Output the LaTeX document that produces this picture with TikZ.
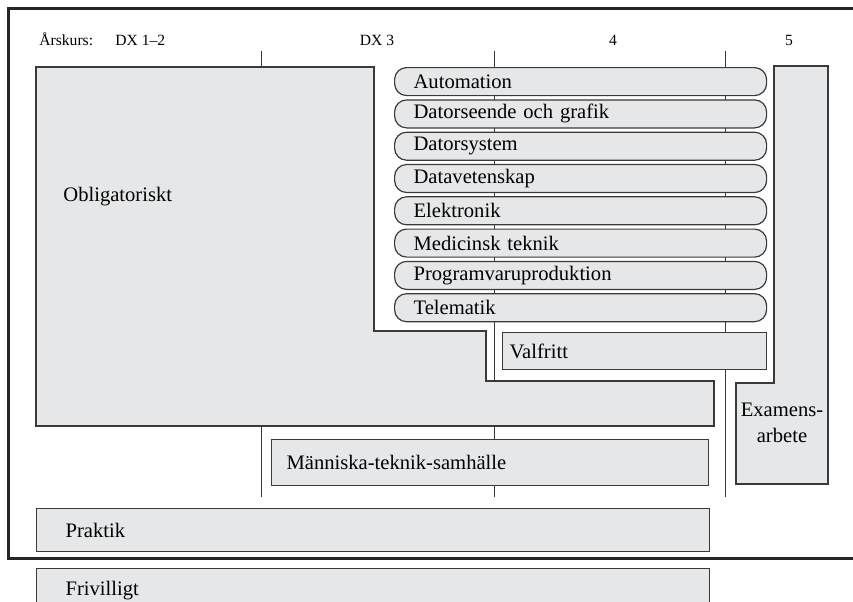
\documentclass[tikz,border=0pt]{standalone}
\usepackage{fontspec}
\setmainfont{Liberation Serif}
\usetikzlibrary{positioning}
\definecolor{boxfill}{HTML}{E6E7E8}
\definecolor{boxline}{HTML}{3A3A3A}

\begin{document}
\begin{tikzpicture}[
  x=0.5pt, y=-0.5pt,
  node distance=1.55pt,
  font=\fontsize{10.3}{13}\selectfont,
  box/.style={draw=boxline, line width=0.6pt, fill=boxfill, inner ysep=0pt, anchor=north west, align=left},
  pill/.style={box, rounded corners=6pt, minimum height=14pt, text width=167pt, inner xsep=9.5pt},
  area/.style={draw=boxline, line width=0.6pt, fill=boxfill},
  tick/.style={draw=boxline, line width=0.5pt},
  head/.style={font=\fontsize{7.8}{9}\selectfont, inner sep=0pt},
  frame/.style={draw=black!85, line width=1.5pt}
]
  \useasboundingbox (0,0) rectangle (853,601);

  % Ram
  \draw[frame] (880,8) -- (8,8) -- (8,558) -- (880,558);

  % Årskurser
  \node[head, anchor=base west] (arskurs) at (39,45) {Årskurs:};
  \node[head, anchor=base west] (dx12) at (115,45) {DX 1--2};
  \node[head, anchor=base] (dx3) at (377,45) {DX 3};
  \node[head, anchor=base] (ar4) at (613,45) {4};
  \node[head, anchor=base] (ar5) at (789,45) {5};

  % Gränser mellan årskurser
  \draw[tick] (261,51) -- (261,497);
  \draw[tick] (494,51) -- (494,497);
  \draw[tick] (725,51) -- (725,497);

  % Obligatoriskt
  \draw[area] (36,67) -- (374,67) -- (374,331) -- (486,331) -- (486,381)
    -- (714,381) -- (714,426) -- (36,426) -- cycle;
  \node[anchor=west, inner sep=0pt] (oblig) at (63,197) {Obligatoriskt};

  % Examensarbete
  \draw[area] (774,66) -- (828,66) -- (828,484) -- (736,484) -- (736,383)
    -- (774,383) -- cycle;
  \node[align=center, inner sep=0pt] (exjobb) at (782,423) {Examens-\\arbete};

  % Profiler
  \node[pill] (automation) at (394,67) {Automation};
  \node[pill, below=of automation] (grafik) {Datorseende och grafik};
  \node[pill, below=of grafik] (datorsystem) {Datorsystem};
  \node[pill, below=of datorsystem] (datavet) {Datavetenskap};
  \node[pill, below=of datavet] (elektronik) {Elektronik};
  \node[pill, below=of elektronik] (medicin) {Medicinsk teknik};
  \node[pill, below=of medicin] (programvara) {Programvaruproduktion};
  \node[pill, below=of programvara] (telematik) {Telematik};

  \node[box, minimum height=18.5pt, text width=125pt, inner xsep=3.5pt,
    below left=4.9pt and 0pt of telematik.south east] (valfritt) {Valfritt};

  % Övriga block
  \node[box, minimum height=23pt, text width=203.5pt, inner xsep=7.5pt] (mts) at (271,439) {Människa-teknik-samhälle};
  \node[box, minimum height=21.5pt, text width=307.5pt, inner xsep=14.5pt] (praktik) at (36,508) {Praktik};
  \node[box, minimum height=21.5pt, text width=307.5pt, inner xsep=14.5pt,
    below=7.9pt of praktik] (frivilligt) {Frivilligt};
\end{tikzpicture}
\end{document}
